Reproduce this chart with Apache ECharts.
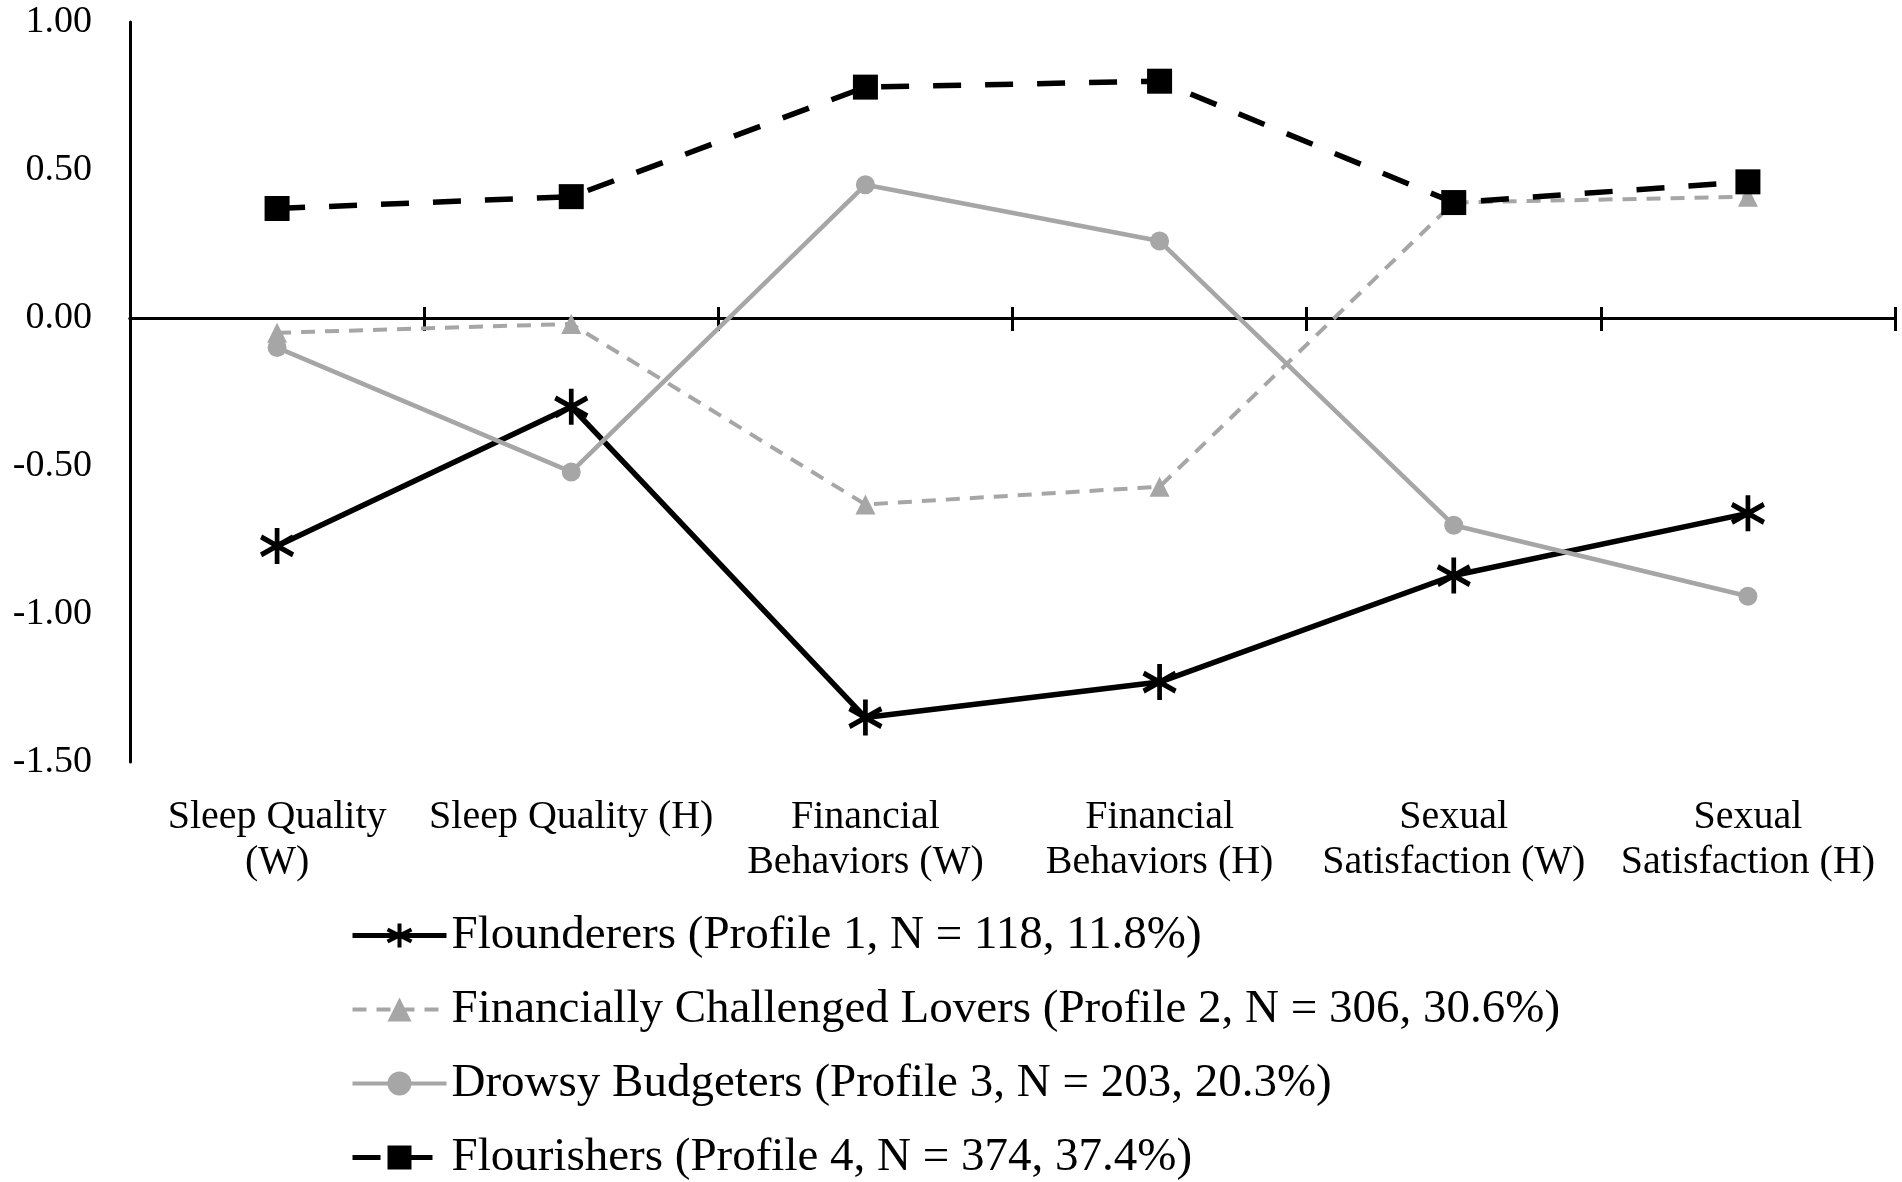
<!DOCTYPE html>
<html>
<head>
<meta charset="utf-8">
<script src="https://cdn.jsdelivr.net/npm/echarts@6/dist/echarts.min.js"></script>
<style>
  html, body { margin: 0; padding: 0; background: #fff; }
  #main { width: 1902px; height: 1182px; }
</style>
</head>
<body>
<div id="main"></div>
<script>
    var myChart = echarts.init(document.getElementById('main'));

    // 類別 (x 軸)
    var categories = [
        'Sleep Quality\n(W)',
        'Sleep Quality (H)',
        'Financial\nBehaviors (W)',
        'Financial\nBehaviors (H)',
        'Sexual\nSatisfaction (W)',
        'Sexual\nSatisfaction (H)'
    ];

    // 各 profile 的數值
    var flounderers = [-0.77, -0.30, -1.35, -1.23, -0.87, -0.66];
    var lovers = [-0.05, -0.02, -0.63, -0.57, 0.39, 0.41];
    var drowsy = [-0.10, -0.52, 0.45, 0.26, -0.70, -0.94];
    var flourishers = [0.37, 0.41, 0.78, 0.80, 0.39, 0.46];

    var seriesNames = [
        'Flounderers (Profile 1, N = 118, 11.8%)',
        'Financially Challenged Lovers (Profile 2, N = 306, 30.6%)',
        'Drowsy Budgeters (Profile 3, N = 203, 20.3%)',
        'Flourishers (Profile 4, N = 374, 37.4%)'
    ];

    var yTicks = [-1.5, -1.0, -0.5, 0, 0.5, 1.0];

    var FONT = 'Liberation Serif, Times New Roman, serif';
    var GRAY = '#a6a6a6';
    var asterisk = 'path://M0,-20L0,20M-17.3,-10L17.3,10M-17.3,10L17.3,-10';

    var option = {
        backgroundColor: '#fff',
        animation: false,
        grid: {
            left: 130,
            right: 7,
            top: 22,
            bottom: 420,
            outerBoundsMode: 'none'
        },
        legend: {
            orient: 'vertical',
            left: 350,
            top: 912,
            bottom: 0,
            padding: 0,
            itemWidth: 94,
            itemHeight: 30,
            itemGap: 27,
            textStyle: {
                fontFamily: FONT,
                fontSize: 47,
                lineHeight: 46,
                color: '#000'
            },
            data: [
                { name: seriesNames[0], lineStyle: { width: 5 }, itemStyle: { borderWidth: 4 } },
                { name: seriesNames[1], lineStyle: { width: 4 } },
                { name: seriesNames[2], lineStyle: { width: 4 } },
                { name: seriesNames[3], lineStyle: { width: 5 } }
            ]
        },
        xAxis: [
            {
                // 只顯示標籤，放在底部
                type: 'category',
                data: categories,
                position: 'bottom',
                axisLine: { show: false, onZero: false },
                axisTick: { show: false },
                axisLabel: {
                    interval: 0,
                    margin: 33,
                    fontFamily: FONT,
                    fontSize: 40,
                    lineHeight: 45,
                    color: '#000'
                }
            },
            {
                // 0 線，刻度向下
                type: 'category',
                data: categories,
                position: 'bottom',
                axisLine: { show: true, onZero: true, onZeroAxisIndex: 0, lineStyle: { color: '#000', width: 3 } },
                axisTick: { show: true, length: 13, lineStyle: { color: '#000', width: 3 } },
                axisLabel: { show: false }
            },
            {
                // 0 線，刻度向上
                type: 'category',
                data: categories,
                position: 'top',
                axisLine: { show: true, onZero: true, onZeroAxisIndex: 0, lineStyle: { color: '#000', width: 3 } },
                axisTick: { show: true, length: 11, lineStyle: { color: '#000', width: 3 } },
                axisLabel: { show: false }
            }
        ],
        yAxis: {
            type: 'value',
            min: yTicks[0],
            max: yTicks[yTicks.length - 1],
            interval: 0.5,
            axisLine: { show: true, lineStyle: { color: '#000', width: 3 } },
            axisTick: { show: false },
            splitLine: { show: false },
            axisLabel: {
                margin: 38,
                fontFamily: FONT,
                fontSize: 38,
                color: '#000',
                formatter: function (v) {
                    return v.toFixed(2);
                }
            }
        },
        series: [
            {
                name: seriesNames[0],
                type: 'line',
                data: flounderers,
                symbol: asterisk,
                symbolSize: [32, 36],
                lineStyle: { color: '#000', width: 5.5 },
                itemStyle: { color: '#000', borderColor: '#000', borderWidth: 5 }
            },
            {
                name: seriesNames[1],
                type: 'line',
                data: lovers,
                symbol: 'triangle',
                symbolSize: 20,
                lineStyle: { color: GRAY, width: 4, type: [14, 10] },
                itemStyle: { color: GRAY }
            },
            {
                name: seriesNames[2],
                type: 'line',
                data: drowsy,
                symbol: 'circle',
                symbolSize: 19,
                lineStyle: { color: GRAY, width: 4.5 },
                itemStyle: { color: GRAY }
            },
            {
                name: seriesNames[3],
                type: 'line',
                data: flourishers,
                symbol: 'rect',
                symbolSize: 25,
                lineStyle: { color: '#000', width: 5.5, type: [28, 24] },
                itemStyle: { color: '#000' }
            }
        ]
    };

    myChart.setOption(option);

    window.addEventListener('resize', function () {
        myChart.resize();
    });
</script>
</body>
</html>
